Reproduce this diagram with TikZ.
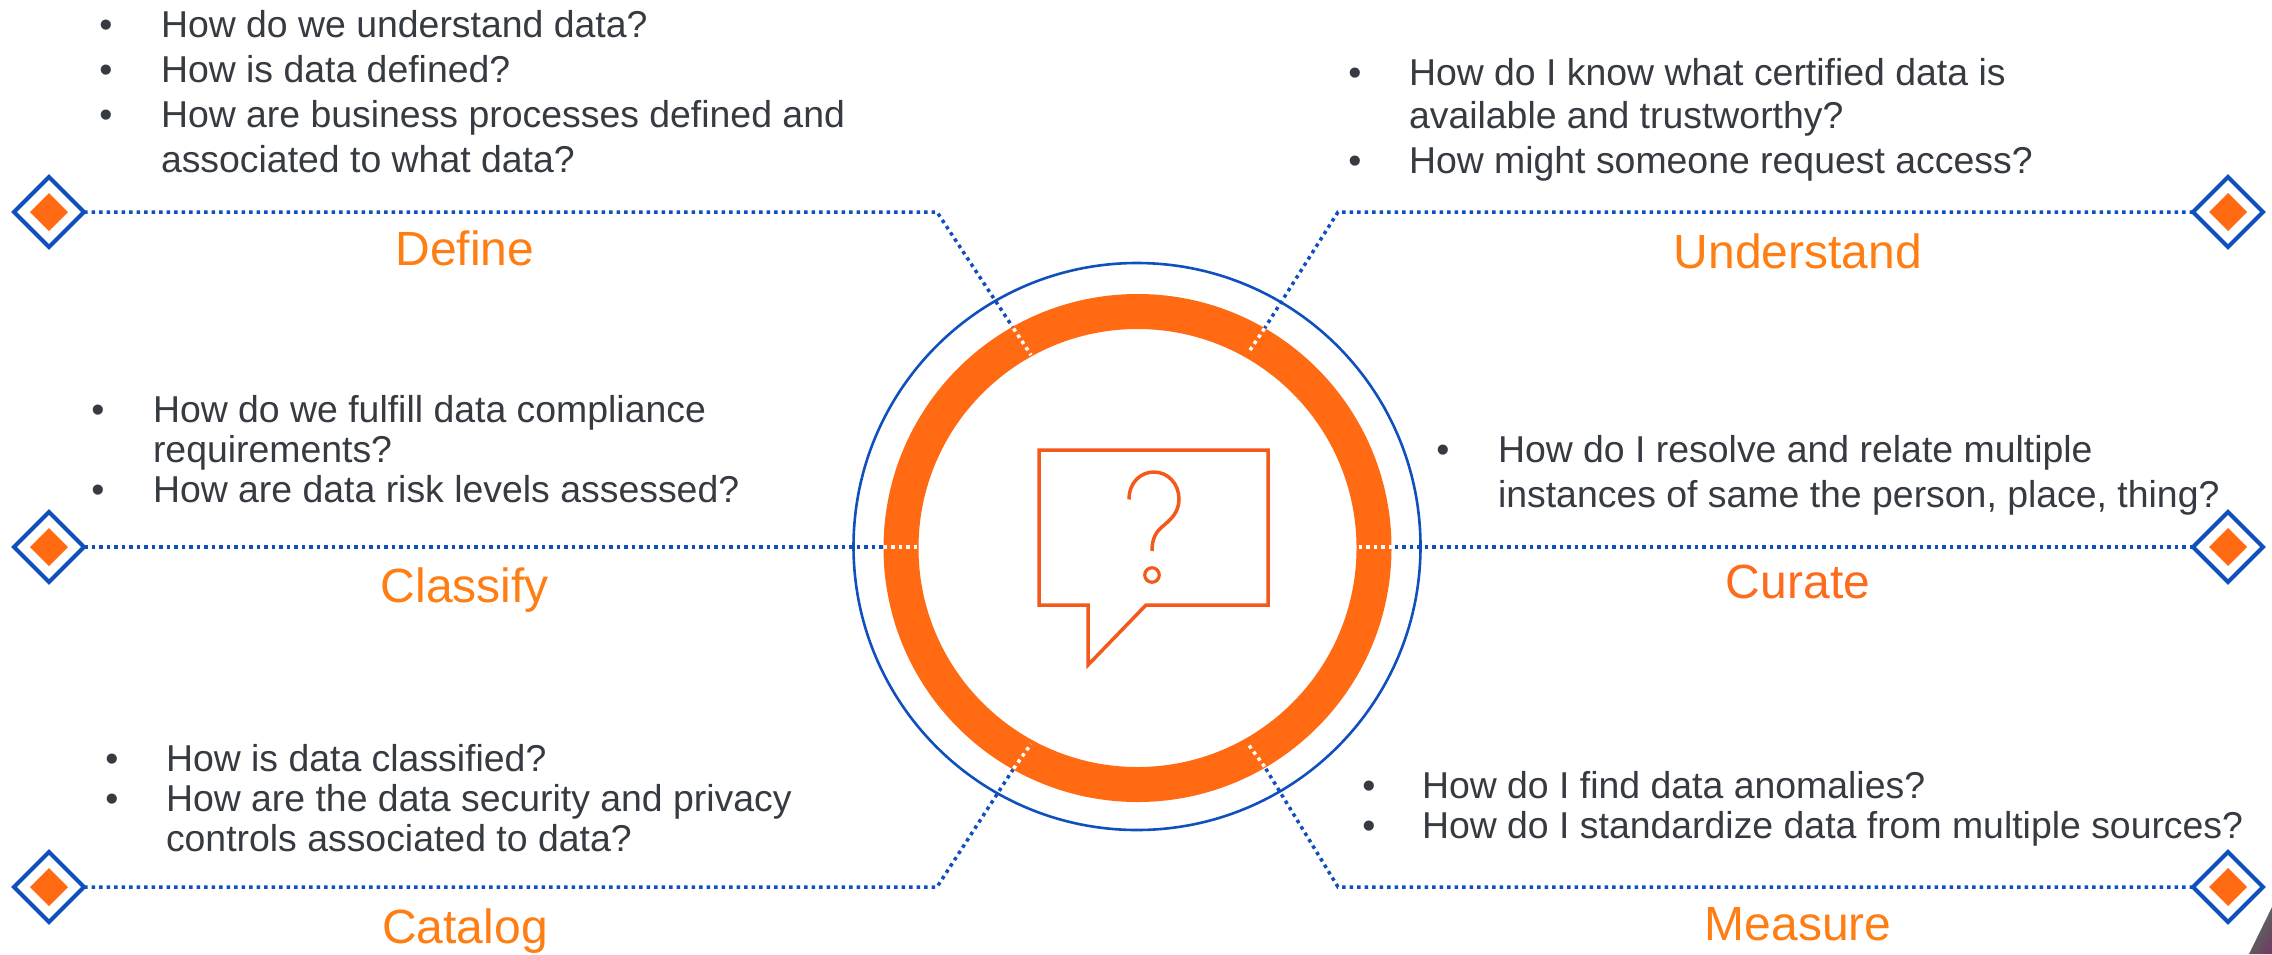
\documentclass[tikz,border=0pt]{standalone}
\usepackage{fontspec}
\setmainfont{Liberation Sans}
\usetikzlibrary{shapes.geometric}
\definecolor{lineblue}{HTML}{0F50BE}
\definecolor{ringorange}{HTML}{FF6A13}
\definecolor{titleorange}{HTML}{FF7E14}
\definecolor{curateorange}{HTML}{FC6C1C}
\definecolor{bubbleorange}{HTML}{F4591C}
\definecolor{bodytext}{HTML}{363A41}
\definecolor{photogreen}{HTML}{4F7A5E}
\definecolor{phototan}{HTML}{A08A62}
\definecolor{photoplum}{HTML}{6E3F63}
\tikzset{
  qtext/.style={anchor=base west,xshift=-1pt,inner sep=0pt,outer sep=0pt,text=bodytext,font=\fontsize{37.4}{44}\selectfont},
  qbullet/.style={anchor=base,inner sep=0pt,outer sep=0pt,text=bodytext,font=\fontsize{37.4}{44}\selectfont},
  qtitle/.style={anchor=base,inner sep=0pt,outer sep=0pt,text=titleorange,font=\fontsize{48}{54}\selectfont},
  outerdiamond/.style={diamond,aspect=1,draw=lineblue,fill=white,line width=4pt,minimum width=70pt,minimum height=70pt,inner sep=0pt,outer sep=0pt},
  innerdiamond/.style={diamond,aspect=1,fill=ringorange,minimum width=38pt,minimum height=38pt,inner sep=0pt,outer sep=0pt},
  bluedots/.style={draw=lineblue,line width=3.5pt,dash pattern=on 3.5pt off 4pt},
  whitedots/.style={draw=white,line width=3.5pt,dash pattern=on 3.5pt off 4pt},
  bubbleline/.style={draw=bubbleorange,line width=3.5pt},
}
\begin{document}
\begin{tikzpicture}[x=1pt,y=-1pt]
\fill[white] (0,0) rectangle (2272,954);
\useasboundingbox (0,0) rectangle (2272,954);

% photo fragment in the corner
\path[shading=axis,left color=photogreen,middle color=phototan,right color=photoplum,shading angle=60]
  (2249,954) -- (2272,907) -- (2272,954) -- cycle;

% diamonds
\node[outerdiamond] (dDefine) at (49,212) {};
\node[innerdiamond] (iDefine) at (49,212) {};
\node[outerdiamond] (dClassify) at (49,547) {};
\node[innerdiamond] (iClassify) at (49,547) {};
\node[outerdiamond] (dCatalog) at (49,887) {};
\node[innerdiamond] (iCatalog) at (49,887) {};
\node[outerdiamond] (dUnderstand) at (2228,212) {};
\node[innerdiamond] (iUnderstand) at (2228,212) {};
\node[outerdiamond] (dCurate) at (2228,547) {};
\node[innerdiamond] (iCurate) at (2228,547) {};
\node[outerdiamond] (dMeasure) at (2228,887) {};
\node[innerdiamond] (iMeasure) at (2228,887) {};

% elbows and crossing points
\coordinate (cTL) at (937,212);
\coordinate (cTR) at (1338,212);
\coordinate (cBL) at (937,887);
\coordinate (cBR) at (1338,887);
\coordinate (oTL) at (1013.6,328.5);
\coordinate (iTL) at (1031,355);
\coordinate (oTR) at (1264.5,328.5);
\coordinate (iTR) at (1248,353);
\coordinate (oBL) at (1013.6,768.6);
\coordinate (iBL) at (1031,744);
\coordinate (oBR) at (1264.5,766.6);
\coordinate (iBR) at (1248,744);
\coordinate (oL) at (883.5,547);
\coordinate (iL) at (918,547);
\coordinate (oR) at (1392,547);
\coordinate (iR) at (1357,547);

% blue dotted connectors
\draw[bluedots] (dDefine.east) -- (cTL) -- (oTL);
\draw[bluedots] (dUnderstand.west) -- (cTR) -- (oTR);
\draw[bluedots] (dCatalog.east) -- (cBL) -- (oBL);
\draw[bluedots] (dMeasure.west) -- (cBR) -- (oBR);
\draw[bluedots] (dClassify.east) -- (oL);
\draw[bluedots] (dCurate.west) -- (oR);

% ring and outer circle
\node[circle,draw=ringorange,line width=35pt,minimum size=473pt,inner sep=0pt,outer sep=0pt] (ring) at (1137.5,548) {};
\node[circle,draw=lineblue,line width=2.6pt,minimum size=567pt,inner sep=0pt,outer sep=0pt] (halo) at (1137,546.5) {};

% white dots over the ring
\draw[whitedots] (oTL) -- (iTL);
\draw[whitedots] (oTR) -- (iTR);
\draw[whitedots] (oBL) -- (iBL);
\draw[whitedots] (oBR) -- (iBR);
\draw[whitedots] (oL) -- (iL);
\draw[whitedots] (oR) -- (iR);

% speech bubble with question mark
\draw[bubbleline,line join=miter] (1039,450) -- (1268,450) -- (1268,605) -- (1146,605) -- (1088,665) -- (1088,605) -- (1039,605) -- cycle;
\draw[bubbleline] (1129,499.5) .. controls (1129,482) and (1141,472) .. (1154,472)
  .. controls (1168,472) and (1179,484) .. (1179,499)
  .. controls (1179,513) and (1170,520) .. (1163,526)
  .. controls (1156,532) and (1152,538) .. (1152,551);
\node[circle,draw=bubbleorange,line width=3.2pt,minimum size=14.5pt,inner sep=0pt,outer sep=0pt] (dot) at (1152,575) {};

% Define block
\node[qbullet] (bD1) at (106,37) {•};
\node[qtext] (tD1) at (162,37) {How do we understand data?};
\node[qbullet] (bD2) at (106,82) {•};
\node[qtext] (tD2) at (162,82) {How is data defined?};
\node[qbullet] (bD3) at (106,127) {•};
\node[qtext] (tD3) at (162,127) {How are business processes defined and};
\node[qtext] (tD4) at (162,172) {associated to what data?};
\node[qtitle] (Define) at (465,265) {Define};

% Understand block
\node[qbullet] (bU1) at (1355,85) {•};
\node[qtext] (tU1) at (1410,85) {How do I know what certified data is};
\node[qtext] (tU2) at (1410,128) {available and trustworthy?};
\node[qbullet] (bU2) at (1355,173) {•};
\node[qtext] (tU3) at (1410,173) {How might someone request access?};
\node[qtitle] (Understand) at (1798,268) {Understand};

% Classify block
\node[qbullet] (bC1) at (98,422) {•};
\node[qtext] (tC1) at (154,422) {How do we fulfill data compliance};
\node[qtext] (tC2) at (154,462) {requirements?};
\node[qbullet] (bC2) at (98,502) {•};
\node[qtext] (tC3) at (154,502) {How are data risk levels assessed?};
\node[qtitle] (Classify) at (465,602) {Classify};

% Curate block
\node[qbullet] (bR1) at (1443,462) {•};
\node[qtext] (tR1) at (1499,462) {How do I resolve and relate multiple};
\node[qtext] (tR2) at (1499,507) {instances of same the person, place, thing?};
\node[qtitle,text=curateorange] (Curate) at (1798,598) {Curate};

% Catalog block
\node[qbullet] (bK1) at (112,771) {•};
\node[qtext] (tK1) at (167,771) {How is data classified?};
\node[qbullet] (bK2) at (112,811) {•};
\node[qtext] (tK2) at (167,811) {How are the data security and privacy};
\node[qtext] (tK3) at (167,851) {controls associated to data?};
\node[qtitle] (Catalog) at (465,943) {Catalog};

% Measure block
\node[qbullet] (bM1) at (1369,798) {•};
\node[qtext] (tM1) at (1423,798) {How do I find data anomalies?};
\node[qbullet] (bM2) at (1369,838) {•};
\node[qtext] (tM2) at (1423,838) {How do I standardize data from multiple sources?};
\node[qtitle] (Measure) at (1798,940) {Measure};
\end{tikzpicture}
\end{document}
